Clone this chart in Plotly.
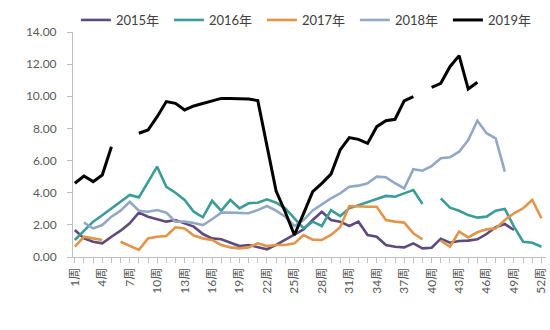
import plotly.graph_objects as go

weeks = list(range(1, 53))
N = None

y2015 = [1.68, 1.16, 0.95, 0.85, 1.26, 1.64, 2.10, 2.76, 2.51, 2.35, 2.20, 2.30, 2.10, 1.89, 1.43, 1.16, 1.10, 0.89, 0.68, 0.75,
         0.60, 0.48, 0.75, 1.06, 1.37, 1.72, 2.30, 2.82, 2.30, 2.20, 1.93, 2.20, 1.37, 1.26, 0.75, 0.64, 0.60, 0.85, 0.54, 0.58,
         1.14, 0.89, 1.00, 1.02, 1.10, 1.43, 1.85, 2.05, 1.68, N, N, N]
y2016 = [1.06, 1.60, 2.20, 2.60, 3.03, 3.44, 3.86, 3.71, 4.65, 5.62, 4.37, 4.00, 3.55, 2.82, 2.47, 3.50, 2.88, 3.55, 3.03, 3.34,
         3.38, 3.59, 3.38, 3.03, 2.41, 1.79, 2.20, 1.93, 2.92, 2.55, 3.03, 3.24, 3.44, 3.61, 3.80, 3.75, 3.96, 4.17, 3.30, N,
         3.65, 3.07, 2.88, 2.61, 2.45, 2.51, 2.88, 2.99, 1.89, 0.95, 0.89, 0.64]
y2017 = [0.64, 1.26, 1.16, 1.06, N, 0.95, 0.68, 0.44, 1.16, 1.26, 1.31, 1.85, 1.78, 1.34, 1.16, 1.06, 0.75, 0.60, 0.54, 0.60,
         0.85, 0.68, 0.75, 0.75, 0.85, 1.37, 1.08, 1.06, 1.37, 1.85, 3.17, 3.13, 3.13, 3.13, 2.30, 2.20, 2.14, 1.47, 1.10, N,
         1.02, 0.64, 1.58, 1.22, 1.54, 1.72, 1.78, 2.30, 2.72, 3.03, 3.55, 2.41]
y2018 = [N, 2.14, 1.78, 1.99, 2.51, 2.88, 3.44, 2.88, 2.82, 2.92, 2.76, 2.20, 2.20, 2.12, 1.99, 2.35, 2.76, 2.76, 2.72, 2.72,
         2.92, 3.17, 2.88, 2.51, 1.93, 2.30, 2.90, 3.30, 3.65, 3.96, 4.37, 4.44, 4.59, 5.00, 4.96, 4.59, 4.27, 5.46, 5.37, 5.66,
         6.14, 6.20, 6.55, 7.28, 8.48, 7.70, 7.38, 5.31, N, N, N, N]
y2019 = [4.59, 5.04, 4.69, 5.10, 6.86, N, N, 7.70, 7.90, 8.73, 9.67, 9.56, 9.15, 9.40, 9.56, 9.70, 9.87, 9.87, 9.83, 9.83,
         9.73, 6.90, 4.10, 2.80, 1.37, 2.70, 4.07, 4.58, 5.16, 6.66, 7.43, 7.32, 7.07, 8.11, 8.48, 8.57, 9.71, 9.98, N, 10.56,
         10.81, 11.84, 12.53, 10.45, 10.87, N, N, N, N, N, N, N]

series = [
    ("2015年", y2015, "#5F4A7C", 2.6),
    ("2016年", y2016, "#3B9C98", 2.6),
    ("2017年", y2017, "#E0954A", 2.6),
    ("2018年", y2018, "#93A8C3", 2.6),
    ("2019年", y2019, "#000000", 3.0),
]

tick_weeks = list(range(1, 53, 3))
tick_text = [f"{w}周" for w in tick_weeks]

FONT = "Lato, 'Noto Sans CJK SC', sans-serif"

fig = go.Figure()
for name, ys, color, width in series:
    fig.add_trace(go.Scatter(x=weeks, y=ys, name=name, mode="lines",
                             line=dict(color=color, width=width),
                             connectgaps=False))

fig.update_layout(
    width=550, height=330,
    margin=dict(l=73, r=4, t=32, b=73, autoexpand=False),
    paper_bgcolor="white", plot_bgcolor="white",
    font=dict(family=FONT, size=12, color="#595959"),
    showlegend=True,
    legend=dict(orientation="h", xref="container", x=0.138, xanchor="left",
                yref="container", y=1 - 20 / 330, yanchor="middle",
                font=dict(family=FONT, size=13, color="#404040"),
                entrywidth=48, entrywidthmode="pixels",
                itemwidth=30, bgcolor="rgba(0,0,0,0)", tracegroupgap=0),
)
fig.update_xaxes(
    range=[0.8, 52.5], showgrid=False, zeroline=False,
    showline=True, linecolor="#BFBFBF", linewidth=1,
    tickvals=tick_weeks, ticktext=tick_text, tickangle=-90,
    ticks="outside", ticklen=5, tickcolor="#BFBFBF",
    minor=dict(dtick=1, tick0=1, ticks="outside", ticklen=5, tickcolor="#BFBFBF"),
    tickfont=dict(family=FONT, size=12, color="#595959"),
)
fig.update_yaxes(
    range=[0, 14], showgrid=False, zeroline=False,
    showline=True, linecolor="#BFBFBF", linewidth=1,
    tickvals=[0, 2, 4, 6, 8, 10, 12, 14], tickformat=".2f",
    ticks="outside", ticklen=5, tickcolor="#BFBFBF", ticklabelstandoff=8,
    tickfont=dict(family=FONT, size=12, color="#595959"),
)

fig.write_html("out.html")
